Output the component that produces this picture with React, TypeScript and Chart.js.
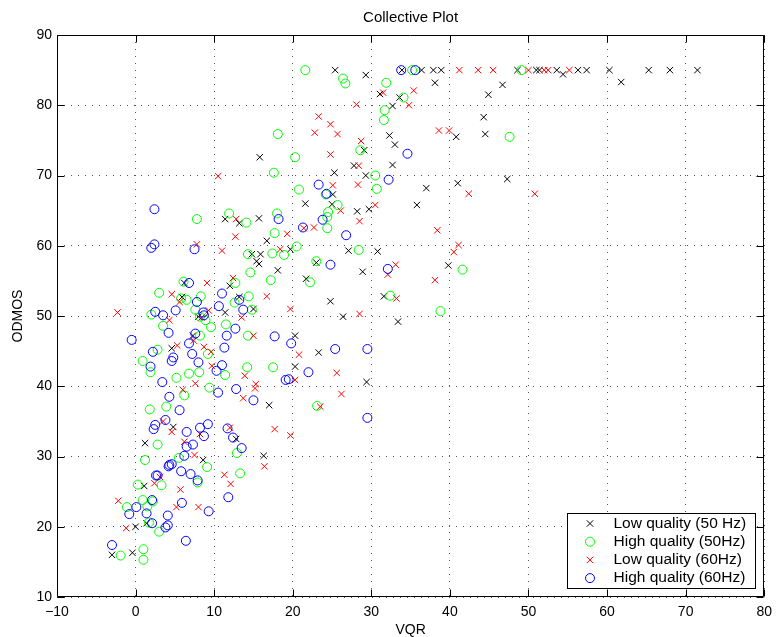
import React, { useEffect, useRef } from 'react';
import { Chart, registerables } from 'chart.js';

Chart.register(...registerables);

// ---------- data ----------
const xTickValues = [-10, 0, 10, 20, 30, 40, 50, 60, 70, 80];
const yTickValues = [10, 20, 30, 40, 50, 60, 70, 80, 90];

const chartTitle = 'Collective Plot';
const xAxisTitle = 'VQR';
const yAxisTitle = 'ODMOS';

const seriesLabels = ['Low quality (50 Hz)', 'High quality (50Hz)', 'Low quality (60Hz)', 'High quality (60Hz)'];

const lowQuality50Hz: [number, number][] = [
  [15.8, 72.6], [11.4, 63.8], [13.2, 63.2], [15.7, 63.9],
  [25.4, 85.0], [29.3, 84.3], [33.9, 85], [36.4, 85], [37.9, 85], [38.9, 85], [38.1, 83.2], [31.1, 81.6],
  [33.6, 81.1], [32.7, 79.9], [32.3, 75.7], [33.0, 74.4], [29.1, 73.6], [27.8, 71.4], [32.7, 71.5],
  [25.3, 70.4], [29.3, 70.0], [25.1, 67.3], [37.0, 68.2], [21.6, 66.0], [25.0, 65.9], [28.2, 64.9],
  [29.7, 65.2], [35.8, 65.8], [48.6, 85], [46.7, 82.9], [44.9, 81.5], [44.3, 78.3], [40.8, 75.5],
  [44.5, 75.9], [41.0, 68.9], [47.3, 69.5],
  [51.0, 85], [51.4, 85], [53.6, 85], [54.4, 84.4], [56.3, 85], [57.4, 85], [60.3, 85], [61.8, 83.3],
  [65.3, 85], [68.0, 85], [71.5, 85],
  [19.7, 59.5], [27.1, 59.3], [30.8, 59.2], [39.8, 57.2], [23.0, 57.6], [28.9, 56.3], [21.7, 55.3],
  [24.8, 52.1], [31.6, 52.8], [33.4, 49.2], [26.4, 49.9], [20.3, 47.2], [23.3, 44.8], [20.3, 42.8], [29.4, 40.6],
  [16.7, 60.7], [14.8, 58.8], [15.9, 58.8], [15.4, 57.8], [15.7, 57.4], [18.1, 56.5], [6.2, 54.7], [12.0, 54.3],
  [5.9, 52.7], [13.2, 52.7], [15.0, 51.0], [11.4, 50.5], [8.0, 49.9], [7.3, 47.2], [4.6, 45.4], [17.0, 37.3],
  [4.8, 34.2], [1.2, 31.9], [8.6, 29.5], [1.1, 25.8], [1.4, 20.5], [0.0, 20.0], [-3.0, 16.0], [-0.4, 16.3],
  [12.8, 32.5], [16.3, 30.1],
];

const highQuality50Hz: [number, number][] = [
  [18.1, 75.9], [17.6, 70.4], [7.8, 63.8], [11.9, 64.6], [14.1, 63.3], [18.0, 64.6],
  [21.6, 85.0], [26.4, 83.8], [26.7, 83.1], [35.2, 85], [31.9, 83.2], [34.1, 81.1], [31.7, 79.3], [31.6, 77.9],
  [28.6, 73.6], [20.3, 72.6], [30.5, 70.0], [20.8, 68.0], [24.2, 67.3], [30.7, 68.1], [25.7, 65.8], [24.5, 64.8],
  [24.4, 64.1], [49.1, 85], [47.6, 75.5],
  [24.4, 62.5], [20.5, 59.9], [28.4, 59.4], [23.0, 57.8], [41.6, 56.6], [22.2, 54.8], [32.4, 52.9], [38.8, 50.7], [23.1, 37.2],
  [17.7, 61.8], [14.3, 58.8], [17.4, 58.9], [18.9, 58.7], [14.6, 56.2], [17.2, 55.1], [6.1, 54.9], [12.7, 54.7],
  [3.0, 53.3], [5.8, 52.5], [6.5, 52.3], [8.3, 52.8], [12.6, 51.9], [14.4, 52.8], [14.8, 50.9], [7.6, 50.9],
  [8.9, 49.4], [8.2, 49.9], [2.0, 50.2], [3.5, 48.6], [9.6, 48.4], [11.5, 48.8], [14.3, 47.2], [8.2, 47.2],
  [2.8, 45.2], [9.2, 44.6], [0.9, 43.6], [1.9, 42.0], [6.8, 41.8], [8.1, 42.0], [11.4, 41.6], [14.2, 42.7],
  [17.5, 42.7], [5.2, 41.2], [9.4, 39.8], [6.2, 38.7], [1.8, 36.7], [3.9, 37.1],
  [2.8, 31.7], [5.5, 29.8], [9.1, 28.5], [1.2, 29.5], [7.9, 26.3], [3.3, 25.9], [0.3, 26.0], [-1.1, 22.8],
  [0.9, 23.8], [2.2, 23.6], [1.5, 22.9], [1.7, 20.6], [3.0, 19.3], [-1.9, 15.9], [1.0, 16.8], [1.0, 15.3],
  [12.9, 30.5], [13.3, 27.6],
];

const lowQuality60Hz: [number, number][] = [
  [10.5, 69.9], [12.8, 63.8],
  [35.4, 82.1], [31.5, 81.8], [34.8, 80.0], [28.1, 80.1], [23.3, 78.4], [24.8, 77.3], [22.8, 76.1], [25.7, 75.9],
  [28.7, 74.9], [24.8, 73.0], [28.4, 71.4], [25.1, 68.6], [28.3, 68.7], [26.1, 65.0], [30.5, 65.8], [28.5, 63.5],
  [41.2, 85], [43.6, 85], [45.5, 85], [38.6, 76.4], [39.9, 76.4], [42.4, 67.4],
  [50.0, 85], [52.0, 85], [52.5, 85], [55.2, 85], [50.8, 67.4],
  [21.4, 62.5], [22.7, 62.6], [38.4, 62.2], [41.1, 60.1], [40.5, 59.1], [33.1, 57.3], [32.1, 55.9], [38.1, 55.1],
  [33.2, 52.5], [28.5, 50.3], [19.7, 51.0], [20.8, 44.5], [25.6, 41.9], [20.3, 40.9], [26.2, 38.9], [23.5, 37.1], [19.7, 33.0],
  [12.7, 61.3], [19.3, 61.7], [18.4, 59.5], [7.8, 60.2], [11.0, 59.3], [9.1, 54.7], [12.4, 55.4], [4.6, 53.1],
  [16.7, 52.8], [5.6, 52.0], [13.5, 49.8], [9.3, 50.8], [8.4, 49.8], [-2.3, 50.5], [4.3, 49.4], [15.0, 47.2],
  [7.4, 46.5], [5.3, 45.8], [8.7, 45.6], [9.6, 44.9], [9.7, 42.9], [13.9, 41.5], [7.6, 40.4], [15.3, 40.3],
  [15.2, 39.7], [6.0, 39.5], [13.7, 38.3],
  [3.5, 35.0], [4.6, 33.5], [8.2, 33.2], [6.2, 32.1], [7.5, 30.2], [3.1, 27.1], [2.4, 26.2], [5.7, 25.3],
  [-2.2, 23.7], [5.2, 22.8], [8.0, 22.8], [-1.2, 19.8], [12.0, 34.1], [11.3, 27.4], [12.1, 26.1], [16.4, 28.6], [17.7, 33.9],
];

const highQuality60Hz: [number, number][] = [
  [2.4, 65.2], [18.2, 63.8],
  [33.8, 85], [35.6, 85], [34.6, 73.1], [32.2, 69.4], [23.3, 68.7], [24.3, 67.4], [23.8, 63.7],
  [21.3, 62.6], [26.8, 61.5], [24.8, 57.3], [32.1, 56.7], [19.8, 46.1], [25.4, 45.3], [29.5, 45.3], [22.0, 42.0],
  [19.5, 41.0], [29.5, 35.5],
  [2.4, 60.2], [2.0, 59.7], [7.5, 59.5], [6.8, 54.7], [11.0, 53.2], [7.8, 52.0], [13.2, 52.3], [10.6, 51.4],
  [13.7, 50.9], [8.6, 50.5], [8.7, 50.1], [2.5, 50.6], [3.5, 50.1], [5.1, 50.8], [4.2, 47.6], [12.7, 48.2],
  [11.6, 47.2], [17.7, 47.1], [7.6, 47.5], [6.8, 46.1], [-0.5, 46.6], [2.2, 44.9], [11.3, 45.5], [7.2, 44.6],
  [4.8, 44.1], [4.6, 43.6], [8.0, 43.4], [11.0, 43.0], [1.9, 42.8], [10.3, 42.2], [19.1, 40.9], [3.4, 40.6],
  [10.5, 39.1], [12.8, 39.6], [4.3, 38.5], [15.0, 38.0], [5.6, 36.6],
  [2.5, 34.5], [2.3, 33.9], [3.8, 35.2], [6.5, 33.5], [8.2, 34.1], [9.2, 34.6], [8.7, 32.9], [6.5, 31.4],
  [7.3, 31.7], [6.2, 30.1], [4.3, 28.8], [4.6, 28.9], [4.2, 28.6], [5.8, 27.9], [7.0, 27.5], [2.6, 27.3],
  [2.8, 27.3], [7.9, 26.6], [0.1, 22.8], [-0.8, 21.8], [2.1, 23.8], [1.4, 21.9], [5.9, 23.4], [9.3, 22.2],
  [4.1, 21.6], [2.1, 20.5], [4.1, 20.2], [3.8, 19.9], [6.4, 18.0], [-3.0, 17.4], [11.7, 34.0], [12.4, 32.7],
  [13.5, 31.2], [11.8, 24.2],
];

// ---------- styles ----------
const seriesData = [lowQuality50Hz, highQuality50Hz, lowQuality60Hz, highQuality60Hz];
const seriesColors = ['#000000', '#00ff00', '#ff0000', '#0000ff'];
const seriesMarkers = ['crossRot', 'circle', 'crossRot', 'circle'];
const FONT = "'Liberation Sans', Arial, Helvetica, sans-serif";
const W = 779;
const H = 637;

function drawMarker(ctx: CanvasRenderingContext2D, kind: string, x: number, y: number, color: string) {
  ctx.save();
  ctx.strokeStyle = color;
  ctx.lineWidth = 1;
  ctx.beginPath();
  if (kind === 'circle') {
    ctx.arc(x, y, 4.5, 0, Math.PI * 2);
  } else {
    const d = 3.2;
    ctx.moveTo(x - d, y - d);
    ctx.lineTo(x + d, y + d);
    ctx.moveTo(x - d, y + d);
    ctx.lineTo(x + d, y - d);
  }
  ctx.stroke();
  ctx.restore();
}

const matlabPlugin = {
  id: 'matlabDecor',
  afterDraw(chart: any) {
    const { ctx, chartArea: a, scales } = chart;
    const L = Math.round(a.left) + 0.5;
    const T = Math.round(a.top) + 0.5;
    const R = Math.round(a.right) - 0.5;
    const B = Math.round(a.bottom) - 0.5;
    ctx.save();
    ctx.strokeStyle = '#000';
    ctx.lineWidth = 1;
    ctx.beginPath();
    ctx.rect(L, T, R - L, B - T);
    ctx.stroke();
    // inward tick marks
    const tl = 7;
    ctx.beginPath();
    xTickValues.forEach((v) => {
      const px = Math.round(scales.x.getPixelForValue(v)) + 0.5;
      ctx.moveTo(px, B);
      ctx.lineTo(px, B - tl);
      ctx.moveTo(px, T);
      ctx.lineTo(px, T + tl);
    });
    yTickValues.forEach((v) => {
      const py = Math.round(scales.y.getPixelForValue(v)) + 0.5;
      ctx.moveTo(L, py);
      ctx.lineTo(L + tl, py);
      ctx.moveTo(R, py);
      ctx.lineTo(R - tl, py);
    });
    ctx.stroke();

    // titles
    ctx.fillStyle = '#000';
    ctx.textAlign = 'center';
    ctx.textBaseline = 'middle';
    const cx = (a.left + a.right) / 2;
    ctx.font = `15px ${FONT}`;
    ctx.fillText(chartTitle, cx, 18);
    ctx.font = `14px ${FONT}`;
    ctx.fillText(xAxisTitle, cx, 630);
    ctx.save();
    ctx.translate(18, (a.top + a.bottom) / 2);
    ctx.rotate(-Math.PI / 2);
    ctx.fillText(yAxisTitle, 0, 0);
    ctx.restore();

    // legend
    const bw = 188;
    const bh = 75;
    const bx = Math.round(a.right) - 9 - bw + 0.5;
    const by = Math.round(a.bottom) - 9 - bh + 0.5;
    ctx.fillStyle = '#fff';
    ctx.fillRect(bx, by, bw, bh);
    ctx.strokeStyle = '#000';
    ctx.strokeRect(bx, by, bw, bh);
    ctx.font = `15.5px ${FONT}`;
    ctx.textAlign = 'left';
    ctx.textBaseline = 'middle';
    seriesLabels.forEach((lab, i) => {
      const yy = by + 10 + i * 18.2;
      drawMarker(ctx, seriesMarkers[i], bx + 22.5, yy, seriesColors[i]);
      ctx.fillStyle = '#000';
      ctx.fillText(lab, bx + 46, yy);
    });
    ctx.restore();
  },
};

export default function App() {
  const ref = useRef<HTMLCanvasElement | null>(null);
  useEffect(() => {
    document.body.style.margin = '0';
    const canvas = ref.current;
    if (!canvas) return;
    const datasets = seriesData.map((pts, i) => ({
      label: seriesLabels[i],
      data: pts.map(([x, y]) => ({ x, y })),
      showLine: false,
      pointStyle: seriesMarkers[i] as any,
      pointRadius: 4.5,
      pointHoverRadius: 4.5,
      pointBorderWidth: 1,
      borderColor: seriesColors[i],
      backgroundColor: 'rgba(0,0,0,0)',
      pointBackgroundColor: 'rgba(0,0,0,0)',
      pointBorderColor: seriesColors[i],
      order: 4 - i,
    }));
    const chart = new Chart(canvas, {
      type: 'scatter',
      data: { datasets },
      options: {
        responsive: false,
        animation: false,
        devicePixelRatio: 1,
        layout: { padding: { left: 0, right: 11, top: 35, bottom: 0 } },
        plugins: {
          legend: { display: false },
          tooltip: { enabled: false },
          title: { display: false },
        },
        scales: {
          x: {
            type: 'linear',
            min: -10,
            max: 80,
            afterBuildTicks: (s: any) => {
              s.ticks = xTickValues.map((v) => ({ value: v }));
            },
            afterFit: (s: any) => {
              s.height = 40;
            },
            grid: { color: '#555', lineWidth: 1, drawTicks: false },
            border: { display: false, dash: [1, 6] },
            ticks: {
              color: '#000',
              font: { family: FONT, size: 14 },
              padding: 7,
              maxRotation: 0,
              autoSkip: false,
              callback: (v: any) => String(v).replace('-', '\u2212'),
            },
          },
          y: {
            type: 'linear',
            min: 10,
            max: 90,
            afterBuildTicks: (s: any) => {
              s.ticks = yTickValues.map((v) => ({ value: v }));
            },
            afterFit: (s: any) => {
              s.width = 57;
            },
            grid: { color: '#555', lineWidth: 1, drawTicks: false },
            border: { display: false, dash: [1, 6] },
            ticks: {
              color: '#000',
              font: { family: FONT, size: 14 },
              padding: 5,
              autoSkip: false,
            },
          },
        },
      },
      plugins: [matlabPlugin],
    });
    return () => chart.destroy();
  }, []);
  return <canvas ref={ref} width={W} height={H} style={{ display: 'block', width: W, height: H }} />;
}
